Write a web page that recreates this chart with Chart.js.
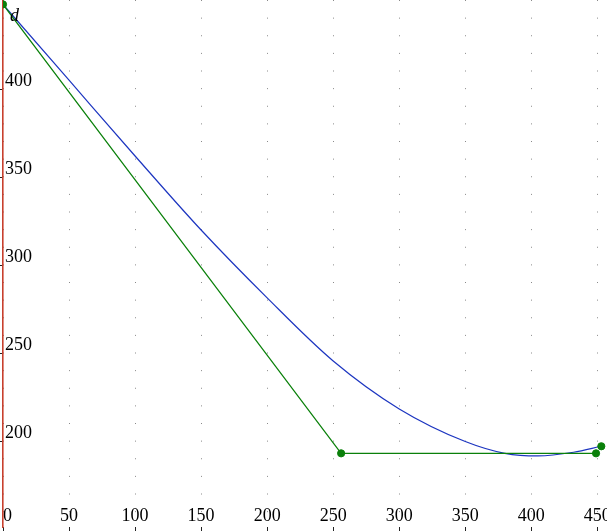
<!DOCTYPE html>
<html>
<head>
<meta charset="utf-8">
<script src="https://cdn.jsdelivr.net/npm/chart.js@4/dist/chart.umd.min.js"></script>
<style>
html,body{margin:0;padding:0;background:#ffffff;}
#wrap{width:607px;height:531px;position:relative;}
</style>
</head>
<body>
<div id="wrap"><canvas id="c"></canvas></div>
<script>
// ---- data ----
const xTicks = [0, 50, 100, 150, 200, 250, 300, 350, 400, 450];
const yTicks = [200, 250, 300, 350, 400];
const yAxisTitle = 'd';

const pathX = [0, 256, 449];
const pathY = [448, 193.3, 193.3];

const endX = [453];
const endY = [197.3];

const curveX = [0, 50, 100, 150, 200, 250, 300, 350, 380, 405, 432, 453];
const curveY = [448, 405, 362, 320, 281.5, 245.7, 218.5, 200, 193.3, 191.8, 193.9, 197.3];

const xRange = [0, 457.3];
const yRange = [151.5, 450.5];

const toPts = (xs, ys) => xs.map((x, i) => ({x: x, y: ys[i]}));

const GREEN = '#0a800a';
const BLUE = '#1c35c0';
const RED = '#c8402e';
const SERIF = '"Liberation Serif", "Times New Roman", serif';

const titlePlugin = {
  id: 'axisTitle',
  afterDraw(chart) {
    const ctx = chart.ctx;
    ctx.save();
    ctx.font = 'italic 18px ' + SERIF;
    ctx.fillStyle = '#000';
    ctx.textAlign = 'left';
    ctx.textBaseline = 'alphabetic';
    ctx.fillText(yAxisTitle, chart.chartArea.left + 7, 20.5);
    ctx.restore();
  }
};

new Chart(document.getElementById('c'), {
  type: 'scatter',
  data: {
    datasets: [
      {
        data: toPts(endX, endY),
        showLine: false,
        pointRadius: 3.6,
        pointBorderWidth: 1,
        pointBackgroundColor: GREEN,
        pointBorderColor: GREEN
      },
      {
        data: toPts(pathX, pathY),
        showLine: true,
        borderColor: GREEN,
        borderWidth: 1.2,
        pointRadius: 3.6,
        pointBorderWidth: 1,
        pointBackgroundColor: GREEN,
        pointBorderColor: GREEN
      },
      {
        data: toPts(curveX, curveY),
        showLine: true,
        borderColor: BLUE,
        borderWidth: 1.2,
        pointRadius: 0,
        cubicInterpolationMode: 'monotone'
      }
    ]
  },
  plugins: [titlePlugin],
  options: {
    responsive: true,
    maintainAspectRatio: false,
    animation: false,
    layout: {padding: 0, autoPadding: false},
    plugins: {legend: {display: false}, tooltip: {enabled: false}},
    scales: {
      x: {
        type: 'linear',
        position: 'bottom',
        min: xRange[0],
        max: xRange[1],
        afterBuildTicks: (s) => { s.ticks = xTicks.map(v => ({value: v})); },
        afterFit: (s) => { s.height = 4; s.paddingLeft = 0; s.paddingRight = 0; },
        border: {display: false, dash: [1, 16.625], dashOffset: 0},
        grid: {
          display: true,
          drawOnChartArea: true,
          drawTicks: true,
          tickLength: 4,
          color: '#8a8a8a',
          lineWidth: 1,
          tickColor: '#222',
          tickBorderDash: [],
          tickWidth: 1
        },
        ticks: {
          autoSkip: false,
          maxRotation: 0,
          mirror: true,
          padding: -0.5,
          color: '#000',
          font: {family: SERIF, size: 18},
          callback: (v) => (v === 0 ? '\u2002' + v : String(v))
        }
      },
      y: {
        type: 'linear',
        position: 'left',
        min: yRange[0],
        max: yRange[1],
        afterBuildTicks: (s) => { s.ticks = yTicks.map(v => ({value: v})); },
        afterFit: (s) => { s.width = 3; s.paddingTop = 0; s.paddingBottom = 0; },
        border: {display: true, color: RED, width: 1.6},
        grid: {
          display: true,
          drawOnChartArea: false,
          drawTicks: true,
          tickLength: 3,
          tickColor: '#222',
          tickWidth: 1
        },
        ticks: {
          mirror: true,
          padding: 2,
          labelOffset: -8,
          color: '#000',
          font: {family: SERIF, size: 18},
          callback: (v) => String(v)
        }
      }
    }
  }
});
</script>
</body>
</html>
